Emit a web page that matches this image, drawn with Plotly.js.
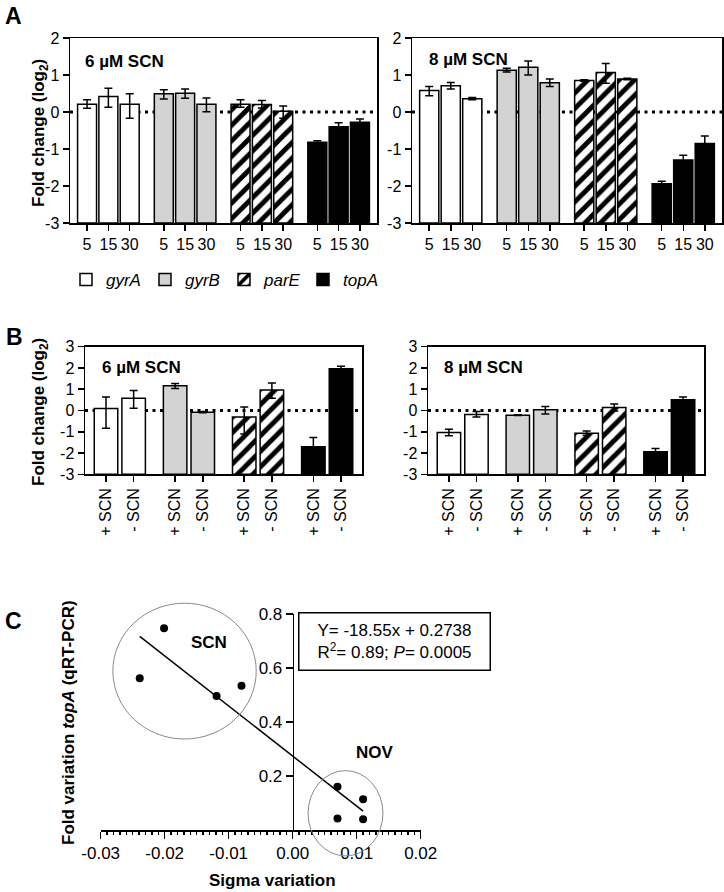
<!DOCTYPE html>
<html><head><meta charset="utf-8">
<script src="https://cdn.plot.ly/plotly-3.0.1.min.js"></script>
<style>html,body{margin:0;padding:0;background:#fff}#chart{width:724px;height:892px}</style>
</head><body><div id="chart"></div>
<script>
// ================= DATA =================
const genes = ['gyrA', 'gyrB', 'parE', 'topA'];
const timeLabels = ['5', '15', '30'];          // minutes
const scnLabels = ['+ SCN', '- SCN'];

// Panel A, 6 µM SCN (gene order, 5/15/30 min each)
const a6Values  = [0.21, 0.42, 0.21,  0.49, 0.51, 0.21,  0.21, 0.20, 0.02,  -0.82, -0.40, -0.28];
const a6ErrUp   = [0.12, 0.22, 0.28,  0.11, 0.11, 0.17,  0.12, 0.11, 0.14,   0.04,  0.11,  0.09];
const a6ErrDown = [0.11, 0.29, 0.38,  0.14, 0.14, 0.20,  0.08, 0.09, 0.19,   0.04,  0.11,  0.09];
// Panel A, 8 µM SCN
const a8Values  = [0.58, 0.71, 0.36,  1.13, 1.21, 0.79,  0.85, 1.07, 0.89,  -1.94, -1.30, -0.85];
const a8ErrUp   = [0.11, 0.09, 0.03,  0.05, 0.17, 0.10,  0.02, 0.24, 0.02,   0.07,  0.13,  0.20];
const a8ErrDown = [0.14, 0.09, 0.03,  0.05, 0.21, 0.10,  0.02, 0.29, 0.02,   0.07,  0.13,  0.20];
// Panel B, 6 µM SCN (gene order, +SCN / -SCN each)
const b6Values  = [0.09, 0.58,  1.16, -0.08,  -0.31, 0.96,  -1.71, 1.96];
const b6ErrUp   = [0.54, 0.36,  0.11,  0.03,   0.47, 0.33,   0.44, 0.12];
const b6ErrDown = [0.92, 0.47,  0.13,  0.03,   0.79, 0.38,   0.44, 0.12];
// Panel B, 8 µM SCN
const b8Values  = [-1.03, -0.19,  -0.22, 0.03,  -1.07, 0.14,  -1.94, 0.50];
const b8ErrUp   = [ 0.15,  0.14,   0.02, 0.16,   0.11, 0.16,   0.15, 0.14];
const b8ErrDown = [ 0.16,  0.12,   0.02, 0.19,   0.09, 0.16,   0.15, 0.14];

// Panel C: sigma variation vs topA fold variation
const sigmaVariation = [-0.0201, -0.0239, -0.0119, -0.0080, 0.0070, 0.0110, 0.0070, 0.0110];
const topAVariation  = [ 0.747,   0.562,   0.496,   0.534,  0.160,  0.114,  0.043,  0.040];
const fitSlope = -18.55;
const fitIntercept = 0.2738;
const fitText = 'Y= -18.55x + 0.2738<br>R<sup>2</sup>= 0.89; <i>P</i>= 0.0005';
const groupNames = ['SCN', 'NOV'];
const groupEllipseX = [[-0.0281, -0.0057], [0.0024, 0.0141]];
const groupEllipseY = [[0.337, 0.84], [-0.096, 0.22]];
const groupLabelX = [-0.0131, 0.0128];
const groupLabelY = [0.693, 0.286];

// tick labels
const aTickVals = [2, 1, 0, -1, -2, -3];
const aTickText = ['2', '1', '0', '-1', '-2', '-3'];
const bTickVals = [3, 2, 1, 0, -1, -2, -3];
const bTickText = ['3', '2', '1', '0', '-1', '-2', '-3'];
const cTickValsX = [-0.03, -0.02, -0.01, 0, 0.01, 0.02];
const cTickTextX = ['-0.03', '-0.02', '-0.01', '0.00', '0.01', '0.02'];
const cTickValsY = [0.2, 0.4, 0.6, 0.8];
const cTickTextY = ['0.2', '0.4', '0.6', '0.8'];

// ================= STYLE / GEOMETRY =================
const W = 724, H = 892;
const FONT = 'Liberation Sans, Arial, Helvetica, sans-serif';
const dx = p => p / W;
const dy = p => 1 - p / H;
const A_Y_RANGE = [-3, 2], B_Y_RANGE = [-3, 3];
const A_STEP = 3.6, B_STEP = 2.5;
const A_X_RANGE = [-0.8, 3 * A_STEP + 2 + 0.8];
const B_X_RANGE = [-0.76, 3 * B_STEP + 1 + 0.76];
const C_X_RANGE = [-0.03, 0.02], C_Y_RANGE = [0, 0.8];
const C_DOM_X = [dx(100.7), dx(420.7)], C_DOM_Y = [dy(830), dy(614)];

const geneFill = ['#ffffff', '#d3d3d3', '#ffffff', '#000000'];
const genePattern = [
  {shape: ''}, {shape: ''},
  {shape: '/', fgcolor: '#000000', bgcolor: '#ffffff', size: 11, solidity: 0.45, fillmode: 'replace'},
  {shape: ''}
];

const traces = [];
function addBars(values, up, down, xa, ya, step, n, width, base, showLegend) {
  genes.forEach((g, gi) => {
    const idx = [...Array(n).keys()];
    traces.push({
      type: 'bar', xaxis: xa, yaxis: ya,
      name: g, legendgroup: g, showlegend: showLegend,
      x: idx.map(i => gi * step + i),
      y: idx.map(i => values[gi * n + i] - base),
      base: base,
      width: width,
      marker: {color: geneFill[gi], pattern: genePattern[gi], line: {color: '#000', width: 1.5}},
      error_y: {type: 'data', symmetric: false,
        array: idx.map(i => up[gi * n + i]),
        arrayminus: idx.map(i => down[gi * n + i]),
        color: '#000', thickness: 1.5, width: 4},
      hoverinfo: 'skip'
    });
  });
}
addBars(a6Values, a6ErrUp, a6ErrDown, 'x', 'y', A_STEP, 3, 0.89, A_Y_RANGE[0], true);
addBars(a8Values, a8ErrUp, a8ErrDown, 'x2', 'y2', A_STEP, 3, 0.89, A_Y_RANGE[0], false);
addBars(b6Values, b6ErrUp, b6ErrDown, 'x3', 'y3', B_STEP, 2, 0.85, B_Y_RANGE[0], false);
addBars(b8Values, b8ErrUp, b8ErrDown, 'x4', 'y4', B_STEP, 2, 0.85, B_Y_RANGE[0], false);

// Panel C scatter + regression
traces.push({
  type: 'scatter', mode: 'markers', xaxis: 'x5', yaxis: 'y5', showlegend: false,
  x: sigmaVariation, y: topAVariation, cliponaxis: false,
  marker: {color: '#000', size: 8}, hoverinfo: 'skip'
});
const fitX = [Math.min(...sigmaVariation), Math.max(...sigmaVariation)];
traces.push({
  type: 'scatter', mode: 'lines', xaxis: 'x5', yaxis: 'y5', showlegend: false,
  x: fitX, y: fitX.map(v => fitSlope * v + fitIntercept),
  line: {color: '#000', width: 1.5}, hoverinfo: 'skip'
});

// ================= AXES =================
const tickPositions = (step, n) => genes.flatMap((g, gi) => [...Array(n).keys()].map(i => gi * step + i));
function barX(domain, range, anchor, step, n, labels, angle) {
  return {
    domain: domain, range: range, anchor: anchor,
    tickmode: 'array', tickvals: tickPositions(step, n),
    ticktext: genes.flatMap(() => labels), tickangle: angle,
    showline: true, mirror: true, linecolor: '#000', linewidth: 1.5,
    ticks: 'outside', ticklen: 6, tickwidth: 1.5, tickcolor: '#000',
    showgrid: false, zeroline: false, fixedrange: true,
    tickfont: {family: FONT, size: 16, color: '#000'}
  };
}
function barY(domain, range, anchor, vals, text) {
  return {
    domain: domain, range: range, anchor: anchor,
    tickmode: 'array', tickvals: vals, ticktext: text,
    showline: true, mirror: true, linecolor: '#000', linewidth: 1.5,
    ticks: 'outside', ticklen: 6, tickwidth: 1.5, tickcolor: '#000',
    showgrid: false, zeroline: false, fixedrange: true,
    tickfont: {family: FONT, size: 16, color: '#000'}
  };
}

const A_DOM_Y = [dy(223), dy(38)], B_DOM_Y = [dy(474.3), dy(346.7)];

const layout = {
  width: W, height: H, margin: {l: 0, r: 0, t: 0, b: 0},
  paper_bgcolor: '#fff', plot_bgcolor: 'rgba(0,0,0,0)',
  font: {family: FONT, color: '#000'},
  barmode: 'overlay', bargap: 0,
  showlegend: true,
  legend: {orientation: 'h', x: dx(66), y: dy(280), xanchor: 'left', yanchor: 'middle',
    font: {family: FONT, size: 17, style: 'italic', color: '#000'},
    bgcolor: 'rgba(0,0,0,0)', itemwidth: 30, traceorder: 'normal', itemclick: false,
    entrywidth: 34, entrywidthmode: 'pixels'},
  xaxis:  barX([dx(70), dx(377)], A_X_RANGE, 'y', A_STEP, 3, timeLabels, 0),
  yaxis:  barY(A_DOM_Y, A_Y_RANGE, 'x', aTickVals, aTickText),
  xaxis2: barX([dx(412), dx(722)], A_X_RANGE, 'y2', A_STEP, 3, timeLabels, 0),
  yaxis2: barY(A_DOM_Y, A_Y_RANGE, 'x2', aTickVals, aTickText),
  xaxis3: barX([dx(85), dx(362)], B_X_RANGE, 'y3', B_STEP, 2, scnLabels, -90),
  yaxis3: barY(B_DOM_Y, B_Y_RANGE, 'x3', bTickVals, bTickText),
  xaxis4: barX([dx(428), dx(704)], B_X_RANGE, 'y4', B_STEP, 2, scnLabels, -90),
  yaxis4: barY(B_DOM_Y, B_Y_RANGE, 'x4', bTickVals, bTickText),
  xaxis5: {
    domain: C_DOM_X, range: C_X_RANGE, anchor: 'y5',
    tickmode: 'array', tickvals: cTickValsX, ticktext: cTickTextX,
    showline: true, linecolor: '#000', linewidth: 1.5,
    ticks: 'outside', ticklen: 7, tickwidth: 1.5, tickcolor: '#000',
    minor: {tickmode: 'linear', tick0: -0.03, dtick: 0.001, ticks: 'outside', ticklen: 3, tickwidth: 1.5, tickcolor: '#000'},
    showgrid: false, zeroline: false, fixedrange: true,
    tickfont: {family: FONT, size: 17, color: '#000'}
  },
  yaxis5: {
    domain: C_DOM_Y, range: C_Y_RANGE, anchor: 'free',
    position: C_DOM_X[0] + (0 - C_X_RANGE[0]) / (C_X_RANGE[1] - C_X_RANGE[0]) * (C_DOM_X[1] - C_DOM_X[0]),
    tickmode: 'array', tickvals: cTickValsY, ticktext: cTickTextY,
    showline: true, linecolor: '#000', linewidth: 1.5,
    ticks: 'outside', ticklen: 7, tickwidth: 1.5, tickcolor: '#000',
    showgrid: false, zeroline: false, fixedrange: true,
    tickfont: {family: FONT, size: 17, color: '#000'}
  },
  shapes: [],
  annotations: []
};

// dotted zero lines behind the bars
[['x', 'y', A_X_RANGE], ['x2', 'y2', A_X_RANGE], ['x3', 'y3', B_X_RANGE], ['x4', 'y4', B_X_RANGE]].forEach(([xa, ya, r]) => {
  layout.shapes.push({type: 'line', xref: xa, yref: ya, x0: r[0], x1: r[1], y0: 0, y1: 0,
    layer: 'below', line: {color: '#000', width: 3, dash: '3px,4.5px'}});
});

// group ellipses in panel C (converted from data units to paper)
const cPX = v => C_DOM_X[0] + (v - C_X_RANGE[0]) / (C_X_RANGE[1] - C_X_RANGE[0]) * (C_DOM_X[1] - C_DOM_X[0]);
const cPY = v => C_DOM_Y[0] + (v - C_Y_RANGE[0]) / (C_Y_RANGE[1] - C_Y_RANGE[0]) * (C_DOM_Y[1] - C_DOM_Y[0]);
groupNames.forEach((name, i) => {
  layout.shapes.push({type: 'circle', xref: 'paper', yref: 'paper',
    x0: cPX(groupEllipseX[i][0]), x1: cPX(groupEllipseX[i][1]),
    y0: cPY(groupEllipseY[i][0]), y1: cPY(groupEllipseY[i][1]),
    line: {color: '#8a8a8a', width: 1}, layer: 'above'});
  layout.annotations.push({xref: 'x5', yref: 'y5', x: groupLabelX[i], y: groupLabelY[i],
    xanchor: 'center', yanchor: 'middle',
    text: '<b>' + name + '</b>', showarrow: false, font: {family: FONT, size: 17, color: '#000'}});
});

// regression equation box
layout.annotations.push({xref: 'paper', yref: 'paper', x: dx(394), y: dy(641.7),
  xanchor: 'center', yanchor: 'middle', text: fitText, showarrow: false, align: 'center',
  width: 186, height: 52, bordercolor: '#000', borderwidth: 1.5, borderpad: 2, bgcolor: '#fff',
  font: {family: FONT, size: 17, color: '#000'}});

// axis titles
const titleFont = {family: FONT, size: 17, color: '#000'};
[['<b>Fold change (log<sub>2</sub>)</b>', 40, 133], ['<b>Fold change (log<sub>2</sub>)</b>', 40, 412],
 ['<b>Fold variation <i>topA</i> (qRT-PCR)</b>', 68, 723]].forEach(([t, x, y]) => {
  layout.annotations.push({xref: 'paper', yref: 'paper', x: dx(x), y: dy(y), textangle: -90,
    xanchor: 'center', yanchor: 'middle', text: t, showarrow: false, font: titleFont});
});
layout.annotations.push({xref: 'paper', yref: 'paper', x: dx(272.5), y: dy(880),
  xanchor: 'center', yanchor: 'middle', text: '<b>Sigma variation</b>', showarrow: false, font: titleFont});

// concentration labels
[['6 µM SCN', 83, 62], ['8 µM SCN', 427, 60], ['6 µM SCN', 100, 367], ['8 µM SCN', 442, 367]].forEach(([t, x, y]) => {
  layout.annotations.push({xref: 'paper', yref: 'paper', x: dx(x), y: dy(y), xanchor: 'left', yanchor: 'middle',
    text: '<b>' + t + '</b>', showarrow: false, font: titleFont});
});

// panel letters
[['A', 3, 16], ['B', 4, 337], ['C', 3, 621]].forEach(([t, x, y]) => {
  layout.annotations.push({xref: 'paper', yref: 'paper', x: dx(x), y: dy(y), xanchor: 'left', yanchor: 'middle',
    text: '<b>' + t + '</b>', showarrow: false, font: {family: FONT, size: 23, color: '#000'}});
});

Plotly.newPlot('chart', traces, layout, {staticPlot: true, displayModeBar: false});
</script>
</body></html>
